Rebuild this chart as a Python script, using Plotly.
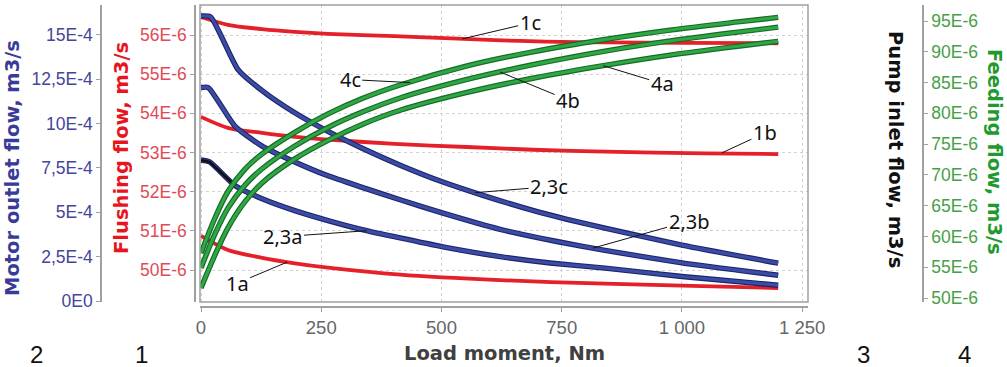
import plotly.graph_objects as go
import numpy as np

# ---------------- data ----------------
# Flushing flow (units of 1E-6 m3/s) vs load moment (Nm)
load_1c = [0, 56, 127, 195, 264, 403, 507, 611, 715, 840, 1000, 1200]
flush_1c = [56.46, 56.26, 56.15, 56.08, 56.03, 55.97, 55.92, 55.87, 55.83, 55.81, 55.80, 55.79]
load_1b = [0, 56, 127, 195, 264, 403, 553, 690, 840, 1048, 1200]
flush_1b = [53.91, 53.63, 53.50, 53.40, 53.33, 53.22, 53.14, 53.07, 53.02, 52.98, 52.96]
load_1a = [0, 56, 127, 195, 264, 414, 622, 840, 1000, 1200]
flush_1a = [50.87, 50.51, 50.31, 50.17, 50.06, 49.88, 49.74, 49.65, 49.60, 49.54]

# Motor outlet / pump inlet flow (units of 1E-4 m3/s)
load_23c = [0, 20, 77, 127, 195, 264, 335, 414, 503, 586, 690, 761, 840, 1000, 1200]
motor_23c = [16.05, 16.0, 13.03, 11.85, 10.6, 9.55, 8.6, 7.65, 6.7, 5.95, 5.1, 4.6, 4.1, 3.15, 2.13]
load_23b = [0, 15, 71, 127, 195, 264, 335, 414, 503, 620, 740, 840, 1000, 1200]
motor_23b = [12.02, 12.02, 9.84, 8.72, 7.83, 7.05, 6.4, 5.7, 4.95, 4.05, 3.35, 2.85, 2.15, 1.45]
load_23a = [0, 18, 71, 127, 195, 264, 335, 414, 503, 622, 726, 840, 1000, 1200]
motor_23a = [7.94, 7.83, 6.49, 5.76, 5.09, 4.53, 4.02, 3.55, 3.05, 2.5, 2.14, 1.85, 1.38, 0.89]

# Feeding flow (units of 1E-6 m3/s)
load_4 = [0, 29, 56, 91, 127, 195, 264, 335, 414, 553, 690, 840, 979, 1116, 1200]
feed_4c = [57.3, 63.0, 67.3, 70.9, 73.4, 76.9, 79.9, 82.4, 84.6, 87.7, 90.0, 92.0, 93.55, 94.85, 95.6]
feed_4b = [54.88, 60.4, 64.6, 68.3, 71.0, 74.7, 77.7, 80.2, 82.5, 85.5, 87.9, 90.1, 91.8, 93.2, 94.0]
feed_4a = [51.63, 57.0, 61.4, 65.6, 68.7, 72.6, 75.6, 78.2, 80.5, 83.4, 85.7, 87.8, 89.5, 90.9, 91.7]

# tick labels
x_ticks = [0, 250, 500, 750, 1000, 1250]
x_ticktext = ["0", "250", "500", "750", "1 000", "1 250"]
flush_ticks = [50, 51, 52, 53, 54, 55, 56]
flush_ticktext = ["50E-6", "51E-6", "52E-6", "53E-6", "54E-6", "55E-6", "56E-6"]
motor_ticks = [0, 2.5, 5, 7.5, 10, 12.5, 15]
motor_ticktext = ["0E0", "2,5E-4", "5E-4", "7,5E-4", "10E-4", "12,5E-4", "15E-4"]
pump_ticks = [2.5, 5, 7.5, 10, 12.5, 15]
pump_ticktext = ["2,5E-4", "5E-4", "7,5E-4", "10E-4", "12,5E-4", "15E-4"]
feed_ticks = [50, 55, 60, 65, 70, 75, 80, 85, 90, 95]
feed_ticktext = ["50E-6", "55E-6", "60E-6", "65E-6", "70E-6", "75E-6", "80E-6", "85E-6", "90E-6", "95E-6"]

E6 = 1e-6
E4 = 1e-4

# ---------------- layout helpers ----------------
W, H = 1007, 367
def fx(p):
    return p / W
def fy(p):
    return 1 - p / H

dom_x = [fx(200), fx(808)]
dom_y = [fy(302), fy(5)]

RED = "#e4202a"
BLUE = "#3b4ca6"
BLUE_EDGE = "#1c2468"
GREEN = "#2fa844"
GREEN_EDGE = "#176a2a"
GRID = "#d2d2d2"
AXIS = "#a0a0a0"

fig = go.Figure()

def add_line(xs, ys, yaxis, color, width, edge=None, ewidth=None, smooth=0.7):
    ln = dict(shape="spline", smoothing=smooth)
    if edge:
        fig.add_trace(go.Scatter(x=xs, y=ys, yaxis=yaxis, mode="lines",
                                 line=dict(ln, color=edge, width=ewidth), hoverinfo="skip", showlegend=False))
    fig.add_trace(go.Scatter(x=xs, y=ys, yaxis=yaxis, mode="lines",
                             line=dict(ln, color=color, width=width), hoverinfo="skip", showlegend=False))

for f in (feed_4a, feed_4b, feed_4c):
    add_line(load_4, [v * E6 for v in f], "y4", GREEN, 3.0, GREEN_EDGE, 5.4, 0.9)
for ld, m in ((load_23a, motor_23a), (load_23b, motor_23b), (load_23c, motor_23c)):
    add_line(ld, [v * E4 for v in m], "y2", BLUE, 3.2, BLUE_EDGE, 5.4, 0.55)
# dark (pump inlet) start of 2,3a
add_line(load_23a[:3], [v * E4 for v in motor_23a[:3]], "y2", "#111111", 2.6, smooth=0)
for ld, f in ((load_1a, flush_1a), (load_1b, flush_1b), (load_1c, flush_1c)):
    add_line(ld, [v * E6 for v in f], "y", RED, 3.8, smooth=0.8)

xr = [-2.1, 1262]
tickfont_y = dict(family="Liberation Sans", size=17.5)

fig.update_layout(
    width=W, height=H,
    margin=dict(l=0, r=0, t=0, b=0, pad=0, autoexpand=False),
    paper_bgcolor="white", plot_bgcolor="white",
    showlegend=False,
    xaxis=dict(domain=dom_x, range=xr, anchor="free", position=fy(307), automargin=False,
               tickvals=x_ticks, ticktext=x_ticktext, ticks="outside", ticklen=4,
               tickcolor=AXIS, showline=True, linecolor=AXIS, linewidth=1.5,
               showgrid=True, gridcolor=GRID, griddash="dot", zeroline=False,
               tickfont=dict(family="Liberation Sans", size=18.5, color="#666666")),
    yaxis=dict(domain=dom_y, range=[49.183 * E6, 56.766 * E6], anchor="free", position=fx(195),
               side="left", tickvals=[v * E6 for v in flush_ticks], ticktext=flush_ticktext, automargin=False,
               ticks="outside", ticklen=4, tickcolor=AXIS, showline=True, linecolor=AXIS, linewidth=1.5,
               showgrid=True, gridcolor=GRID, griddash="dot", zeroline=False,
               tickfont=dict(tickfont_y, color="#e24a55")),
    yaxis2=dict(domain=dom_y, range=[-0.056 * E4, 16.67 * E4], anchor="free", position=fx(101),
                overlaying="y", side="left", tickvals=[v * E4 for v in motor_ticks], ticktext=motor_ticktext,
                automargin=False,
                ticks="outside", ticklen=4, tickcolor=AXIS, showline=True, linecolor=AXIS, linewidth=1.5,
                showgrid=False, zeroline=False, tickfont=dict(tickfont_y, color="#45459a")),
    yaxis3=dict(domain=dom_y, range=[0.58 * E4, 16.86 * E4], anchor="free", position=fx(813),
                overlaying="y", side="right", tickvals=[v * E4 for v in pump_ticks], ticktext=pump_ticktext,
                automargin=False,
                ticks="outside", ticklen=4, tickcolor=AXIS, showline=True, linecolor=AXIS, linewidth=1.5,
                showgrid=False, zeroline=False, tickfont=dict(tickfont_y, color="#333333")),
    yaxis4=dict(domain=dom_y, range=[49.35 * E6, 97.6 * E6], anchor="free", position=fx(923),
                overlaying="y", side="right", tickvals=[v * E6 for v in feed_ticks], ticktext=feed_ticktext,
                automargin=False,
                ticks="outside", ticklen=4, tickcolor=AXIS, showline=True, linecolor=AXIS, linewidth=1.5,
                showgrid=False, zeroline=False, tickfont=dict(tickfont_y, color="#46a046")),
)

# plot frame
fig.add_shape(type="rect", xref="paper", yref="paper", x0=dom_x[0], x1=dom_x[1], y0=dom_y[0], y1=dom_y[1],
              line=dict(color=AXIS, width=1.5), layer="above")

# axis titles
TF = "DejaVu Sans"
def title(text, x, y, color, angle):
    fig.add_annotation(text="<b>%s</b>" % text, xref="paper", yref="paper", x=fx(x), y=fy(y),
                       showarrow=False, textangle=angle, xanchor="center", yanchor="middle",
                       font=dict(family=TF, size=19.5, color=color))

title("Motor outlet flow, m3/s", 12, 168, "#3a3a98", -90)
title("Flushing flow, m3/s", 122, 148, "#e8141e", -90)
title("Pump inlet flow, m3/s", 896, 149, "#111111", 90)
title("Feeding flow, m3/s", 995, 152, "#1f9a2e", 90)
title("Load moment, Nm", 504, 353, "#404040", 0)

for t, x in (("2", 36), ("1", 141), ("3", 863), ("4", 964)):
    fig.add_annotation(text=t, xref="paper", yref="paper", x=fx(x), y=fy(369), showarrow=False,
                       xanchor="center", yanchor="bottom", borderpad=0,
                       font=dict(family="Liberation Sans", size=24, color="#111111"))

# curve labels with leader lines
LF = dict(family="Noto Sans", size=20, color="#111111")
labels = [
    ("1c", 543, 55.9 * E6, "y", 68, -16),
    ("4c", 435, 85.0 * E6, "y4", -60, -3),
    ("4b", 622, 86.7 * E6, "y4", 68, 28),
    ("4a", 836, 87.75 * E6, "y4", 59, 18),
    ("1b", 1083, 52.99 * E6, "y", 43, -20),
    ("2,3c", 570, 6.1 * E4, "y2", 74, -6),
    ("2,3b", 815, 2.98 * E4, "y2", 96, -27),
    ("2,3a", 345, 3.96 * E4, "y2", -84, 6),
    ("1a", 179, 50.2 * E6, "y", -50, 21),
]
for t, x, y, yr, ax, ay in labels:
    fig.add_annotation(text=t, x=x, y=y, xref="x", yref=yr, ax=ax, ay=ay, showarrow=True,
                       arrowhead=0, arrowwidth=1, arrowcolor="#111111", font=LF)

page_fix = ("var s=document.documentElement.style;s.margin='0';s.padding='0';s.overflow='hidden';"
            "var b=document.body.style;b.margin='0';b.padding='0';b.overflow='hidden';")
fig.write_html("out.html", config={"displayModeBar": False}, post_script=page_fix)
